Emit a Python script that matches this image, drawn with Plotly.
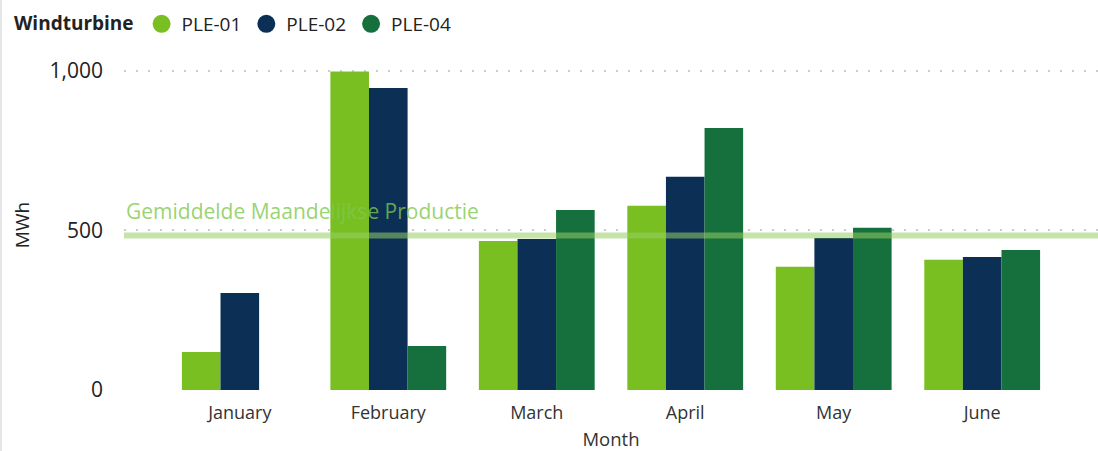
import plotly.graph_objects as go

months = ["January", "February", "March", "April", "May", "June"]
series_names = ["PLE-01", "PLE-02", "PLE-04"]
ple01 = [119, 998, 467, 577, 386, 408]
ple02 = [304, 946, 473, 668, 476, 417]
ple04 = [0, 138, 564, 821, 508, 439]
average_value = 484
average_label = "Gemiddelde Maandelijkse Productie"
y_ticks = [0, 500, 1000]
y_tick_labels = ["0", "500", "1,000"]

colors = ["#7ABF22", "#0B2F55", "#16703D"]
FONT = "Open Sans"

W, H = 1098, 451
ML, MR, MT, MB = 124, 0, 60, 61
plot_h = H - MT - MB
plot_w = W - ML - MR

fig = go.Figure()
for name, vals, c in zip(series_names, [ple01, ple02, ple04], colors):
    fig.add_trace(go.Bar(x=months, y=vals, name=name, marker=dict(color=c, line=dict(width=0)),
                         showlegend=False))
    fig.add_trace(go.Scatter(x=[None], y=[None], mode="markers", name=name,
                             marker=dict(color=c, size=16, symbol="circle", line=dict(color=c, width=2))))

fig.add_shape(type="line", xref="paper", yref="y", x0=0, x1=1, y0=average_value, y1=average_value,
              line=dict(color="rgba(150,205,100,0.55)", width=6), layer="above")
fig.add_annotation(xref="paper", yref="y", x=0, y=average_value, yshift=9, xanchor="left", yanchor="bottom",
                   text=average_label, showarrow=False,
                   font=dict(family=FONT, size=21, color="rgba(125,200,75,0.8)"))

# left border strip
fig.add_shape(type="rect", xref="paper", yref="paper", x0=(0 - ML) / plot_w, x1=(2 - ML) / plot_w,
              y0=-MB / plot_h, y1=1 + MT / plot_h, line=dict(width=0), fillcolor="#e6e6e6", layer="below")

fig.update_layout(
    width=W, height=H,
    margin=dict(l=ML, r=MR, t=MT, b=MB, pad=0),
    paper_bgcolor="white", plot_bgcolor="white",
    barmode="group", bargap=0.22, bargroupgap=0,
    font=dict(family=FONT, color="#222222"),
    legend=dict(orientation="h", x=(12 - ML) / plot_w, xanchor="left",
                y=1 + (MT - 24) / plot_h, yanchor="middle",
                title=dict(text="<b>Windturbine</b>", font=dict(size=19, color="#222222")),
                font=dict(size=19, color="#222222"), itemwidth=30, tracegroupgap=0,
                bgcolor="rgba(0,0,0,0)"),
    xaxis=dict(range=[-0.78, 5.78], showgrid=False, zeroline=False, showline=False, ticks="",
               tickfont=dict(size=18, color="#333333"), ticklabelstandoff=10,
               title=dict(text="Month", font=dict(size=18.5, color="#333333"), standoff=11)),
    yaxis=dict(range=[0, 1034], tickvals=y_ticks, ticktext=y_tick_labels, showgrid=True,
               gridcolor="#cccccc", gridwidth=2, griddash="2px,10px", zeroline=False, showline=False,
               ticks="", ticklabelstandoff=20,
               tickfont=dict(size=21, color="#222222"),
               title=dict(text="MWh", font=dict(size=19, color="#222222"), standoff=14)),
)

fig.write_html("out.html", config={"displayModeBar": False},
               post_script="document.body.style.margin='0';document.body.style.padding='0';")
